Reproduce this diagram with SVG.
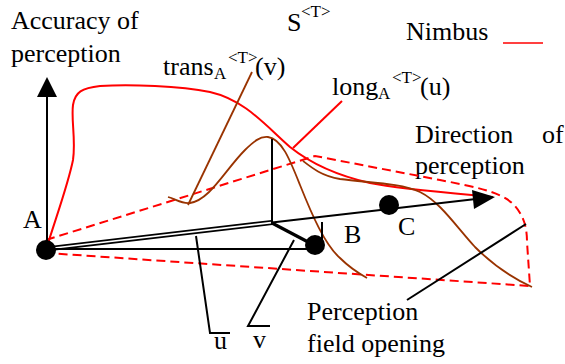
<svg xmlns="http://www.w3.org/2000/svg" width="565" height="364" viewBox="0 0 565 364">
<style>
text{font-family:"Liberation Serif","Times New Roman",serif;font-size:26px;fill:#000}
.s{font-size:17px}
.blk{stroke:#000;stroke-width:2;fill:none}
.red{stroke:#ff0000;stroke-width:2;fill:none}
.dash{stroke:#ff0000;stroke-width:2;fill:none;stroke-dasharray:9 5}
.brn{stroke:#993300;stroke-width:1.8;fill:none}
</style>
<rect width="565" height="364" fill="#fff"/>
<g id="labels">
<text x="11" y="29">Accuracy of</text>
<text x="11" y="62">perception</text>
<text x="287" y="31">S</text><text class="s" x="301" y="17">&lt;T&gt;</text>
<text x="406" y="40">Nimbus</text>
<line x1="503" y1="43" x2="543" y2="43" stroke="#ff0000" stroke-width="1.5"/>
<text x="415" y="143">Direction</text><text x="542" y="143">of</text>
<text x="415" y="174">perception</text>
</g>
<g id="connectors">
<path class="dash" d="M46,240 L315,156 L440,180 C470,186 500,191 513,204 C524,215 527,228 527,242 L530,286 L47,253"/>
<path class="red" d="M46,250 C55,220 68,185 73,160 C76,140 71,120 73,105 C75,92 82,88 100,86 C130,84 180,86 210,92 C245,100 265,125 290,147 C310,163 335,175 370,183 C400,189 450,193 493,197"/>
<path class="brn" d="M168,197 C176,199 181,204 190,203 C210,200 225,170 245,150 C253,142 260,136 268,137 C282,139 290,160 300,185 C312,215 325,245 340,258 C350,268 358,273 367,278"/>
<path class="brn" d="M303,161 C312,168 322,176 340,179 C370,183 400,183 420,192 C440,202 455,225 475,247 C490,262 510,277 532,287"/>
<line class="blk" x1="47" y1="250" x2="47" y2="96"/>
<polygon points="47,77 37,97 57,97" fill="#000"/>
<line class="blk" x1="272" y1="222.5" x2="476" y2="199"/>
<polygon points="495,197 472,190 474,209" fill="#000"/>
<line x1="46" y1="249" x2="272" y2="222.5" stroke="#000" stroke-width="5"/>
<line x1="50" y1="248.5" x2="271" y2="222.6" stroke="#fff" stroke-width="1.6"/>
<line class="blk" x1="46" y1="249" x2="310" y2="249"/>
<line class="blk" x1="272" y1="222" x2="272" y2="139"/>
<line x1="272" y1="223" x2="310" y2="243" stroke="#000" stroke-width="3.2"/>
<line class="blk" x1="322" y1="222" x2="322" y2="240"/>
<polyline class="blk" points="196,236 210,333 230,333"/>
<polyline class="blk" points="294,240 248,326 270,326"/>
<line class="blk" x1="407" y1="300" x2="526" y2="224"/>
<line class="red" x1="342" y1="101" x2="293" y2="148"/>
<line class="brn" x1="252" y1="72" x2="188" y2="205"/>
</g>
<g id="nodeA"><circle cx="46" cy="250" r="10" fill="#000"/><text x="23" y="228">A</text></g>
<g id="nodeB"><circle cx="315" cy="245" r="10" fill="#000"/><text x="344" y="243">B</text></g>
<g id="nodeC"><circle cx="389" cy="205" r="10" fill="#000"/><text x="398" y="235">C</text></g>
<g id="trans"><text x="163" y="75">trans</text><text class="s" x="214" y="79">A</text><text class="s" x="228" y="63">&lt;T&gt;</text><text x="255" y="75">(v)</text></g>
<g id="long"><text x="332" y="95">long</text><text class="s" x="378" y="99">A</text><text class="s" x="392" y="83">&lt;T&gt;</text><text x="420" y="95">(u)</text></g>
<g id="uv"><text x="214" y="349">u</text><text x="253" y="348">v</text></g>
<g id="pfo"><text x="307" y="320">Perception</text><text x="307" y="352">field opening</text></g>
</svg>
